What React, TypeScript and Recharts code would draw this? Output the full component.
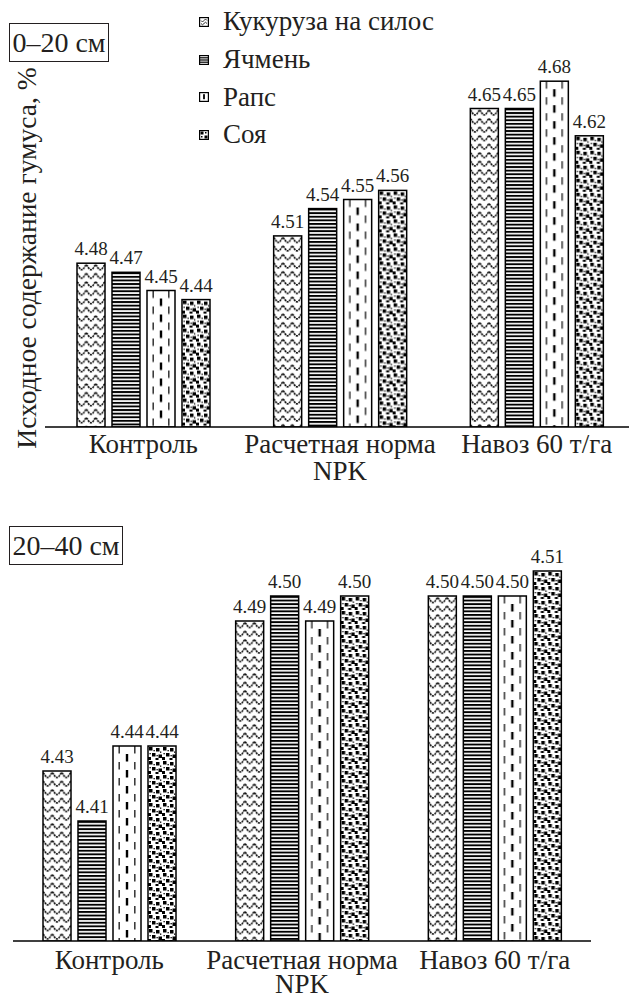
import React from 'react'
import { BarChart, Bar, XAxis, YAxis, LabelList, Legend } from 'recharts'

const FONT = '"Liberation Serif", "Times New Roman", serif'
const INK = '#231f20'

const categories = ['Контроль', 'Расчетная норма\nNPK', 'Навоз 60 т/га']
const seriesKeys = ['corn', 'barley', 'rape', 'soy']
const seriesNames = ['Кукуруза на силос', 'Ячмень', 'Рапс', 'Соя']

// слой 0–20 см
const corn020 = [4.48, 4.51, 4.65]
const barley020 = [4.47, 4.54, 4.65]
const rape020 = [4.45, 4.55, 4.68]
const soy020 = [4.44, 4.56, 4.62]

// слой 20–40 см
const corn2040 = [4.43, 4.49, 4.5]
const barley2040 = [4.41, 4.5, 4.5]
const rape2040 = [4.44, 4.49, 4.5]
const soy2040 = [4.44, 4.5, 4.51]

const domain020 = [4.3, 4.7]
const domain2040 = [4.362, 4.52]

const build = (a: number[], b: number[], c: number[], d: number[]) =>
  categories.map((name, i) => ({ name, corn: a[i], barley: b[i], rape: c[i], soy: d[i] }))

const data020 = build(corn020, barley020, rape020, soy020)
const data2040 = build(corn2040, barley2040, rape2040, soy2040)

// штриховки столбиков
function tile(kind: string, w: number) {
  if (kind === 'corn') {
    return {
      w: w / 3,
      h: 8.5,
      el: (
        <path
          d={`M0,2 C${w / 18},2 ${w / 12},6.5 ${w / 6},6.5 C${w / 4},6.5 ${(w * 5) / 18},2 ${w / 3},2`}
          fill="none"
          stroke="#000"
          strokeWidth={1.6}
          strokeDasharray="2 0.8"
        />
      ),
    }
  }
  if (kind === 'barley') {
    return { w, h: 3.6, el: <rect x={0} y={0} width={w} height={1.9} fill="#000" /> }
  }
  if (kind === 'rape') {
    return {
      w,
      h: 16,
      el: (
        <g fill="#000">
          <rect x={w * 0.22 - 0.6} y={0} width={1.2} height={7.5} />
          <rect x={w * 0.5 - 1.2} y={8} width={2.4} height={7.5} />
          <rect x={w * 0.78 - 0.6} y={0} width={1.2} height={7.5} />
        </g>
      ),
    }
  }
  return {
    w: 14,
    h: 14,
    el: (
      <g fill="#000">
        <rect x={1} y={1} width={3.5} height={3.5} />
        <rect x={8} y={2} width={3.5} height={3.5} />
        <rect x={4} y={7} width={3.5} height={3.5} />
        <rect x={10.5} y={8.5} width={3.5} height={3.5} />
        <rect x={0} y={11} width={3} height={3} />
        <rect x={7.5} y={12} width={3} height={2} />
        <rect x={5.5} y={4} width={1.3} height={1.3} />
        <rect x={12} y={5.5} width={1.3} height={1.3} />
        <rect x={1.5} y={7} width={1.3} height={1.3} />
        <rect x={8.5} y={9} width={1.3} height={1.3} />
      </g>
    ),
  }
}

const makeShape = (kind: string, prefix: string) => (props: any) => {
  const { x, y, width, height, index } = props
  if (!height || height <= 0) return <g />
  const id = `${prefix}-${kind}-${index}`
  const t = tile(kind, width)
  return (
    <g>
      <defs>
        <pattern id={id} patternUnits="userSpaceOnUse" x={x} y={y} width={t.w} height={t.h}>
          <rect width={t.w} height={t.h} fill="#fff" />
          {t.el}
        </pattern>
      </defs>
      <rect x={x} y={y} width={width} height={height} fill={`url(#${id})`} stroke="#000" strokeWidth={1.5} />
    </g>
  )
}

const MiniIcon = ({ kind }: { kind: string }) => (
  <svg width={10} height={10} style={{ marginRight: 14, flex: 'none' }}>
    <rect x={0.6} y={0.6} width={8.8} height={8.8} fill="#fff" stroke="#000" strokeWidth={1.2} />
    {kind === 'corn' && (
      <path d="M2,3.5 Q3.5,6.5 5,3.5 T8,3.5 M2,6.5 Q3.5,9 5,6.5 T8,6.5" fill="none" stroke="#000" strokeWidth={0.8} />
    )}
    {kind === 'barley' && (
      <g fill="#000">
        <rect x={1} y={2.2} width={8} height={1.2} />
        <rect x={1} y={4.4} width={8} height={1.2} />
        <rect x={1} y={6.6} width={8} height={1.2} />
      </g>
    )}
    {kind === 'rape' && <rect x={4.1} y={2.2} width={1.8} height={5} fill="#000" />}
    {kind === 'soy' && (
      <g fill="#000">
        <rect x={1.5} y={1.5} width={3} height={3} />
        <rect x={5.5} y={5.5} width={3} height={3} />
        <rect x={6} y={2} width={1.5} height={1.5} />
        <rect x={2} y={6} width={1.5} height={1.5} />
      </g>
    )}
  </svg>
)

const LegendBox = (props: any) => {
  const payload = [...(props.payload || [])].sort(
    (a: any, b: any) => seriesKeys.indexOf(String(a.dataKey)) - seriesKeys.indexOf(String(b.dataKey))
  )
  return (
    <div style={{ fontFamily: FONT, fontSize: 27, color: INK }}>
      {payload.map((p: any) => (
        <div key={p.value} style={{ height: 37.7, display: 'flex', alignItems: 'center', whiteSpace: 'nowrap' }}>
          <MiniIcon kind={String(p.dataKey)} />
          <span>{p.value}</span>
        </div>
      ))}
    </div>
  )
}

const CategoryTick = (props: any) => {
  const { x, y, payload, first, second } = props
  const lines = String(payload.value).split('\n')
  return (
    <text x={x} y={y} textAnchor="middle" fontFamily={FONT} fontSize={27} fill={INK}>
      {lines.map((l, i) => (
        <tspan key={i} x={x} dy={i === 0 ? first : second}>
          {l}
        </tspan>
      ))}
    </text>
  )
}

const YLabel = (props: any) => {
  const vb = props.viewBox || {}
  const cx = vb.x + 36
  const cy = vb.y + vb.height / 2 + 13
  return (
    <text
      x={cx}
      y={cy}
      transform={`rotate(-90 ${cx} ${cy})`}
      textAnchor="middle"
      fontFamily={FONT}
      fontSize={27.5}
      fill={INK}
    >
      Исходное содержание гумуса, %
    </text>
  )
}

const boxStyle: React.CSSProperties = {
  position: 'absolute',
  left: 9,
  height: 39,
  border: `1px solid ${INK}`,
  boxSizing: 'border-box',
  fontFamily: FONT,
  fontSize: 28,
  color: INK,
  textAlign: 'center',
  lineHeight: '37px',
  background: '#fff',
  whiteSpace: 'nowrap',
}

function Bars({ prefix }: { prefix: string }) {
  return seriesKeys.map((k, i) => (
    <Bar
      key={k}
      dataKey={k}
      name={seriesNames[i]}
      fill="#fff"
      stroke="#000"
      barSize={28}
      shape={makeShape(k, prefix)}
      isAnimationActive={false}
    >
      <LabelList
        dataKey={k}
        position="top"
        offset={8}
        fontSize={19}
        fontFamily={FONT}
        fill={INK}
        formatter={(v: any) => Number(v).toFixed(2)}
      />
    </Bar>
  ))
}

export default function App() {
  return (
    <div style={{ position: 'absolute', left: 0, top: 0, width: 629, height: 1001, overflow: 'hidden', background: '#fff', fontFamily: FONT }}>
      <div style={{ position: 'absolute', left: 0, top: 0 }}>
        <BarChart width={636} height={500} data={data020} margin={{ top: 63, right: 1, bottom: 13, left: 0 }} barGap={7}>
          <YAxis
            width={45}
            domain={domain020}
            allowDataOverflow
            tick={false}
            axisLine={false}
            tickLine={false}
            label={{ content: YLabel }}
          />
          <XAxis
            dataKey="name"
            height={60}
            tickLine={false}
            tickSize={0}
            tickMargin={0}
            interval={0}
            axisLine={{ stroke: '#000', strokeWidth: 1.5 }}
            tick={<CategoryTick first={26} second={27} />}
          />
          <Legend
            layout="vertical"
            align="center"
            verticalAlign="middle"
            wrapperStyle={{ left: 199, top: 3, width: 330 }}
            content={LegendBox}
          />
          {Bars({ prefix: 'a' })}
        </BarChart>
      </div>
      <div style={{ position: 'absolute', left: 0, top: 500 }}>
        <BarChart width={629} height={501} data={data2040} margin={{ top: 46, right: 38, bottom: 0, left: 0 }} barGap={7}>
          <YAxis width={13} domain={domain2040} allowDataOverflow tick={false} axisLine={false} tickLine={false} />
          <XAxis
            dataKey="name"
            height={60}
            tickLine={false}
            tickSize={0}
            tickMargin={0}
            interval={0}
            axisLine={{ stroke: '#000', strokeWidth: 1.5 }}
            tick={<CategoryTick first={28} second={24} />}
          />
          {Bars({ prefix: 'b' })}
        </BarChart>
      </div>
      <div style={{ ...boxStyle, top: 23, width: 100 }}>0–20 см</div>
      <div style={{ ...boxStyle, top: 526, width: 114 }}>20–40 см</div>
    </div>
  )
}
